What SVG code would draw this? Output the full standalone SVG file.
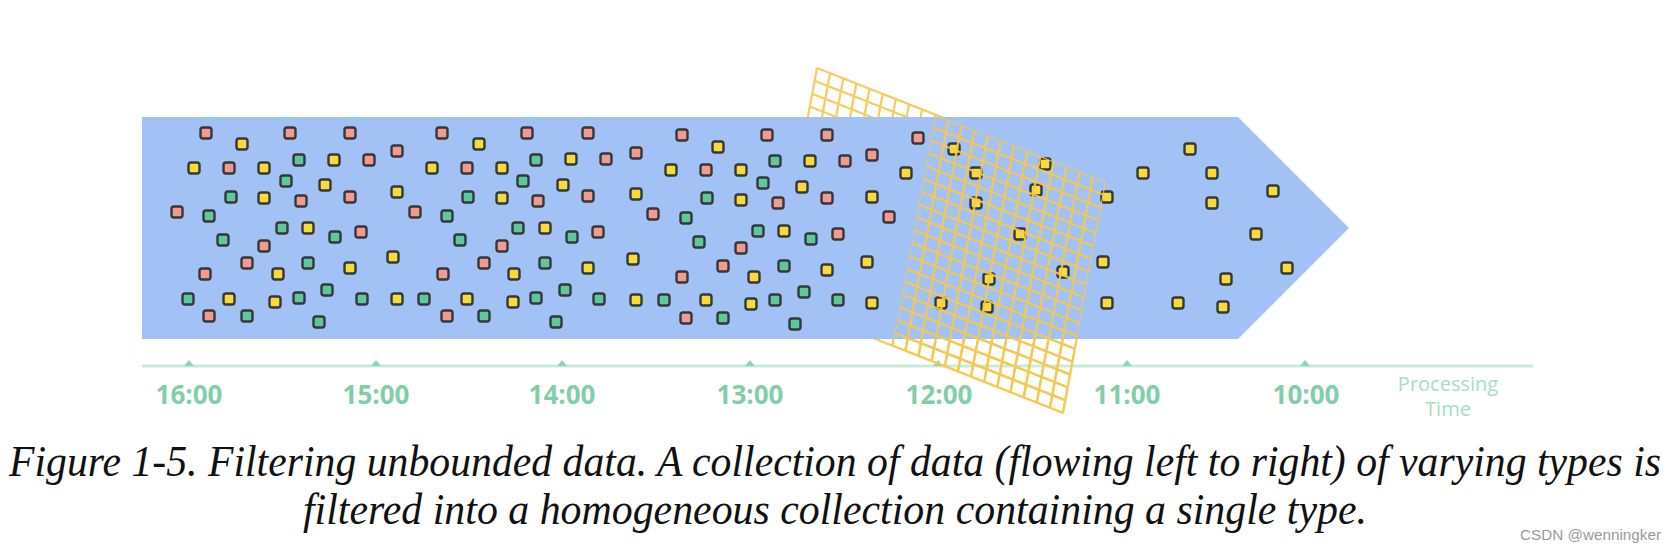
<svg xmlns="http://www.w3.org/2000/svg" xmlns:xlink="http://www.w3.org/1999/xlink" width="1677" height="552" viewBox="0 0 1677 552">
<style>
.sq{stroke:#34383a;stroke-width:2.4}
.p{fill:#f29a8e}
.y{fill:#f8da3a}
.g{fill:#5ec89a}
.grid{fill:none;stroke:#f4c94f;stroke-width:2.3;stroke-opacity:0.9}
.tick{fill:#8ed6b2}
.lbl{font-family:"Open Sans","DejaVu Sans",sans-serif;font-weight:700;font-size:26px;fill:#80cfa8;text-anchor:middle}
.pt{font-family:"Open Sans","DejaVu Sans",sans-serif;font-size:20px;fill:#a6dec2;text-anchor:middle}
.cap{font-family:"Liberation Serif","Times New Roman",serif;font-style:italic;font-size:41.5px;fill:#111}
</style>
<defs>
<rect id="sq" class="sq" x="-5.5" y="-5.5" width="11" height="11" rx="2.5"/>
<path id="gridpath" class="grid" d="M817 68L774 299M830.1 73.2L787.1 304.2M843.3 78.4L800.3 309.4M856.4 83.5L813.4 314.5M869.5 88.7L826.5 319.7M882.7 93.9L839.7 324.9M895.8 99.1L852.8 330.1M909 104.3L866 335.3M922.1 109.5L879.1 340.5M935.2 114.6L892.2 345.6M948.4 119.8L905.4 350.8M961.5 125L918.5 356M974.6 130.2L931.6 361.2M987.8 135.4L944.8 366.4M1000.9 140.5L957.9 371.5M1014 145.7L971 376.7M1027.2 150.9L984.2 381.9M1040.3 156.1L997.3 387.1M1053.5 161.3L1010.5 392.3M1066.6 166.5L1023.6 397.5M1079.7 171.6L1036.7 402.6M1092.9 176.8L1049.9 407.8M1106 182L1063 413M817 68L1106 182M814.6 80.8L1103.6 194.8M812.2 93.7L1101.2 207.7M809.8 106.5L1098.8 220.5M807.4 119.3L1096.4 233.3M805.1 132.2L1094.1 246.2M802.7 145L1091.7 259M800.3 157.8L1089.3 271.8M797.9 170.7L1086.9 284.7M795.5 183.5L1084.5 297.5M793.1 196.3L1082.1 310.3M790.7 209.2L1079.7 323.2M788.3 222L1077.3 336M785.9 234.8L1074.9 348.8M783.6 247.7L1072.6 361.7M781.2 260.5L1070.2 374.5M778.8 273.3L1067.8 387.3M776.4 286.2L1065.4 400.2M774 299L1063 413"/>
<clipPath id="front"><polygon points="935.5,114.7 1106,182 1063,413 892.5,345.7"/></clipPath>
</defs>
<rect width="1677" height="552" fill="#ffffff"/>
<g id="axis">
<line x1="142" y1="366" x2="1533" y2="366" stroke="#c8ebd9" stroke-width="2.8"/>
<polygon class="tick" points="184,366 189,360 194,366"/>
<polygon class="tick" points="371,366 376,360 381,366"/>
<polygon class="tick" points="557,366 562,360 567,366"/>
<polygon class="tick" points="745,366 750,360 755,366"/>
<polygon class="tick" points="933,366 938,360 943,366"/>
<polygon class="tick" points="1122,366 1127,360 1132,366"/>
<polygon class="tick" points="1300,366 1305,360 1310,366"/>
<text class="lbl" x="189" y="404">16:00</text>
<text class="lbl" x="376" y="404">15:00</text>
<text class="lbl" x="562" y="404">14:00</text>
<text class="lbl" x="750" y="404">13:00</text>
<text class="lbl" x="939" y="404">12:00</text>
<text class="lbl" x="1127" y="404">11:00</text>
<text class="lbl" x="1306" y="404">10:00</text>
<text class="pt" x="1448" y="391">Processing</text>
<text class="pt" x="1448" y="416">Time</text>
</g>
<g id="filter-back"><use xlink:href="#gridpath"/></g>
<g id="stream"><polygon points="142,117 1238,117 1349,228 1238,339 142,339" fill="#a2c1f5"/></g>
<g id="elements">
<use xlink:href="#sq" class="p" x="206" y="133"/>
<use xlink:href="#sq" class="y" x="242" y="144"/>
<use xlink:href="#sq" class="p" x="290" y="133"/>
<use xlink:href="#sq" class="p" x="350" y="133"/>
<use xlink:href="#sq" class="p" x="397" y="151"/>
<use xlink:href="#sq" class="p" x="442" y="133"/>
<use xlink:href="#sq" class="y" x="479" y="144"/>
<use xlink:href="#sq" class="p" x="527" y="133"/>
<use xlink:href="#sq" class="y" x="194" y="168"/>
<use xlink:href="#sq" class="p" x="229" y="168"/>
<use xlink:href="#sq" class="y" x="264" y="168"/>
<use xlink:href="#sq" class="g" x="299" y="160"/>
<use xlink:href="#sq" class="y" x="334" y="160"/>
<use xlink:href="#sq" class="p" x="369" y="160"/>
<use xlink:href="#sq" class="g" x="286" y="181"/>
<use xlink:href="#sq" class="y" x="325" y="185"/>
<use xlink:href="#sq" class="y" x="432" y="168"/>
<use xlink:href="#sq" class="p" x="467" y="168"/>
<use xlink:href="#sq" class="y" x="502" y="168"/>
<use xlink:href="#sq" class="g" x="536" y="160"/>
<use xlink:href="#sq" class="g" x="523" y="181"/>
<use xlink:href="#sq" class="g" x="231" y="197"/>
<use xlink:href="#sq" class="y" x="264" y="198"/>
<use xlink:href="#sq" class="p" x="301" y="201"/>
<use xlink:href="#sq" class="p" x="350" y="197"/>
<use xlink:href="#sq" class="y" x="397" y="192"/>
<use xlink:href="#sq" class="g" x="468" y="197"/>
<use xlink:href="#sq" class="y" x="502" y="198"/>
<use xlink:href="#sq" class="p" x="538" y="201"/>
<use xlink:href="#sq" class="p" x="177" y="212"/>
<use xlink:href="#sq" class="g" x="209" y="216"/>
<use xlink:href="#sq" class="p" x="415" y="212"/>
<use xlink:href="#sq" class="g" x="447" y="216"/>
<use xlink:href="#sq" class="g" x="282" y="228"/>
<use xlink:href="#sq" class="y" x="308" y="228"/>
<use xlink:href="#sq" class="g" x="335" y="237"/>
<use xlink:href="#sq" class="p" x="361" y="232"/>
<use xlink:href="#sq" class="g" x="223" y="240"/>
<use xlink:href="#sq" class="p" x="264" y="246"/>
<use xlink:href="#sq" class="g" x="518" y="228"/>
<use xlink:href="#sq" class="y" x="545" y="228"/>
<use xlink:href="#sq" class="g" x="460" y="240"/>
<use xlink:href="#sq" class="p" x="502" y="246"/>
<use xlink:href="#sq" class="p" x="247" y="263"/>
<use xlink:href="#sq" class="p" x="205" y="274"/>
<use xlink:href="#sq" class="y" x="278" y="274"/>
<use xlink:href="#sq" class="g" x="308" y="263"/>
<use xlink:href="#sq" class="y" x="350" y="268"/>
<use xlink:href="#sq" class="y" x="393" y="257"/>
<use xlink:href="#sq" class="p" x="484" y="263"/>
<use xlink:href="#sq" class="p" x="443" y="274"/>
<use xlink:href="#sq" class="y" x="514" y="274"/>
<use xlink:href="#sq" class="g" x="545" y="263"/>
<use xlink:href="#sq" class="g" x="188" y="299"/>
<use xlink:href="#sq" class="y" x="229" y="299"/>
<use xlink:href="#sq" class="y" x="275" y="302"/>
<use xlink:href="#sq" class="g" x="299" y="298"/>
<use xlink:href="#sq" class="g" x="327" y="290"/>
<use xlink:href="#sq" class="g" x="362" y="299"/>
<use xlink:href="#sq" class="y" x="397" y="299"/>
<use xlink:href="#sq" class="g" x="424" y="299"/>
<use xlink:href="#sq" class="y" x="467" y="299"/>
<use xlink:href="#sq" class="y" x="513" y="302"/>
<use xlink:href="#sq" class="g" x="536" y="298"/>
<use xlink:href="#sq" class="p" x="209" y="316"/>
<use xlink:href="#sq" class="g" x="247" y="316"/>
<use xlink:href="#sq" class="g" x="319" y="322"/>
<use xlink:href="#sq" class="p" x="447" y="316"/>
<use xlink:href="#sq" class="g" x="484" y="316"/>
<use xlink:href="#sq" class="p" x="588" y="133"/>
<use xlink:href="#sq" class="y" x="571" y="159"/>
<use xlink:href="#sq" class="p" x="606" y="159"/>
<use xlink:href="#sq" class="p" x="636" y="153"/>
<use xlink:href="#sq" class="p" x="682" y="135"/>
<use xlink:href="#sq" class="y" x="718" y="147"/>
<use xlink:href="#sq" class="p" x="767" y="135"/>
<use xlink:href="#sq" class="p" x="827" y="135"/>
<use xlink:href="#sq" class="p" x="918" y="138"/>
<use xlink:href="#sq" class="y" x="954" y="149"/>
<use xlink:href="#sq" class="y" x="671" y="170"/>
<use xlink:href="#sq" class="p" x="706" y="170"/>
<use xlink:href="#sq" class="y" x="741" y="170"/>
<use xlink:href="#sq" class="g" x="775" y="161"/>
<use xlink:href="#sq" class="y" x="810" y="161"/>
<use xlink:href="#sq" class="p" x="845" y="161"/>
<use xlink:href="#sq" class="p" x="872" y="155"/>
<use xlink:href="#sq" class="y" x="906" y="173"/>
<use xlink:href="#sq" class="y" x="563" y="185"/>
<use xlink:href="#sq" class="g" x="763" y="183"/>
<use xlink:href="#sq" class="y" x="802" y="187"/>
<use xlink:href="#sq" class="p" x="588" y="196"/>
<use xlink:href="#sq" class="y" x="636" y="194"/>
<use xlink:href="#sq" class="g" x="707" y="198"/>
<use xlink:href="#sq" class="y" x="741" y="200"/>
<use xlink:href="#sq" class="p" x="778" y="203"/>
<use xlink:href="#sq" class="p" x="827" y="198"/>
<use xlink:href="#sq" class="y" x="872" y="197"/>
<use xlink:href="#sq" class="p" x="653" y="214"/>
<use xlink:href="#sq" class="g" x="686" y="218"/>
<use xlink:href="#sq" class="p" x="889" y="217"/>
<use xlink:href="#sq" class="g" x="572" y="237"/>
<use xlink:href="#sq" class="p" x="598" y="232"/>
<use xlink:href="#sq" class="g" x="699" y="242"/>
<use xlink:href="#sq" class="g" x="758" y="231"/>
<use xlink:href="#sq" class="y" x="784" y="231"/>
<use xlink:href="#sq" class="g" x="811" y="239"/>
<use xlink:href="#sq" class="p" x="838" y="234"/>
<use xlink:href="#sq" class="p" x="741" y="248"/>
<use xlink:href="#sq" class="y" x="588" y="268"/>
<use xlink:href="#sq" class="y" x="633" y="259"/>
<use xlink:href="#sq" class="p" x="682" y="277"/>
<use xlink:href="#sq" class="p" x="723" y="266"/>
<use xlink:href="#sq" class="y" x="754" y="277"/>
<use xlink:href="#sq" class="g" x="784" y="266"/>
<use xlink:href="#sq" class="y" x="827" y="270"/>
<use xlink:href="#sq" class="y" x="867" y="262"/>
<use xlink:href="#sq" class="g" x="565" y="290"/>
<use xlink:href="#sq" class="g" x="599" y="299"/>
<use xlink:href="#sq" class="y" x="636" y="300"/>
<use xlink:href="#sq" class="g" x="664" y="300"/>
<use xlink:href="#sq" class="y" x="706" y="300"/>
<use xlink:href="#sq" class="y" x="751" y="304"/>
<use xlink:href="#sq" class="g" x="775" y="300"/>
<use xlink:href="#sq" class="g" x="804" y="292"/>
<use xlink:href="#sq" class="g" x="838" y="300"/>
<use xlink:href="#sq" class="y" x="872" y="303"/>
<use xlink:href="#sq" class="y" x="941" y="303"/>
<use xlink:href="#sq" class="g" x="556" y="322"/>
<use xlink:href="#sq" class="p" x="686" y="318"/>
<use xlink:href="#sq" class="g" x="723" y="318"/>
<use xlink:href="#sq" class="g" x="795" y="324"/>
<use xlink:href="#sq" class="y" x="976" y="173"/>
<use xlink:href="#sq" class="y" x="1045" y="164"/>
<use xlink:href="#sq" class="y" x="1036" y="190"/>
<use xlink:href="#sq" class="y" x="976" y="203"/>
<use xlink:href="#sq" class="y" x="1107" y="197"/>
<use xlink:href="#sq" class="y" x="1020" y="234"/>
<use xlink:href="#sq" class="y" x="1103" y="262"/>
<use xlink:href="#sq" class="y" x="1063" y="272"/>
<use xlink:href="#sq" class="y" x="989" y="279"/>
<use xlink:href="#sq" class="y" x="987" y="307"/>
<use xlink:href="#sq" class="y" x="1107" y="303"/>
<use xlink:href="#sq" class="y" x="1190" y="149"/>
<use xlink:href="#sq" class="y" x="1143" y="173"/>
<use xlink:href="#sq" class="y" x="1212" y="173"/>
<use xlink:href="#sq" class="y" x="1273" y="191"/>
<use xlink:href="#sq" class="y" x="1212" y="203"/>
<use xlink:href="#sq" class="y" x="1256" y="234"/>
<use xlink:href="#sq" class="y" x="1287" y="268"/>
<use xlink:href="#sq" class="y" x="1226" y="279"/>
<use xlink:href="#sq" class="y" x="1178" y="303"/>
<use xlink:href="#sq" class="y" x="1223" y="307"/>
</g>
<g id="filter-front" clip-path="url(#front)"><use xlink:href="#gridpath"/></g>
<g id="caption">
<text class="cap" transform="translate(9,476) scale(1,1.07)" x="0" y="0" textLength="1652" lengthAdjust="spacingAndGlyphs">Figure 1-5. Filtering unbounded data. A collection of data (flowing left to right) of varying types is</text>
<text class="cap" transform="translate(303,524) scale(1,1.07)" x="0" y="0" textLength="1064" lengthAdjust="spacingAndGlyphs">filtered into a homogeneous collection containing a single type.</text>
</g>
<text id="watermark" x="1520" y="540" font-family="Liberation Sans, Arial, sans-serif" font-size="15" fill="#9a9a9a" textLength="141" lengthAdjust="spacingAndGlyphs">CSDN @wenningker</text>
</svg>
